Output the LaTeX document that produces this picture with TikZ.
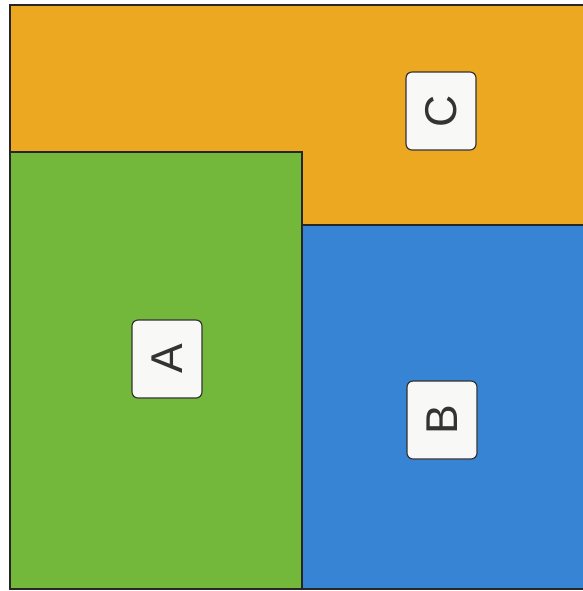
\documentclass[tikz,border=0pt]{standalone}
\usepackage{fontspec}
\setmainfont{Liberation Sans}
\usetikzlibrary{positioning}
\definecolor{orng}{RGB}{236,168,32}
\definecolor{grn}{RGB}{115,184,58}
\definecolor{blu}{RGB}{56,132,212}
\definecolor{lbl}{RGB}{248,248,246}
\tikzset{
  region/.style={draw=black!85,line width=0.45mm},
  tag/.style={draw=black!80,line width=0.35mm,rounded corners=1.8mm,fill=lbl,rotate=90,
    minimum width=23.4mm,minimum height=21mm,inner sep=0pt,text=black!80,
    font=\fontsize{38}{40}\selectfont},
}
\begin{document}
\begin{tikzpicture}[x=0.3mm,y=-0.3mm]
\useasboundingbox (0,0) rectangle (582,591);
\fill[white] (0,0) rectangle (582,591);
\path[region,fill=orng] (10,5) rectangle (590,225);
\path[region,fill=grn] (10,152) rectangle (302,589);
\path[region,fill=blu] (302,225) rectangle (590,589);
\node[tag] (c) at (441,111) {C};
\node[tag] (a) at (167,359) {A};
\node[tag] (b) at (442,420) {B};
\end{tikzpicture}
\end{document}
